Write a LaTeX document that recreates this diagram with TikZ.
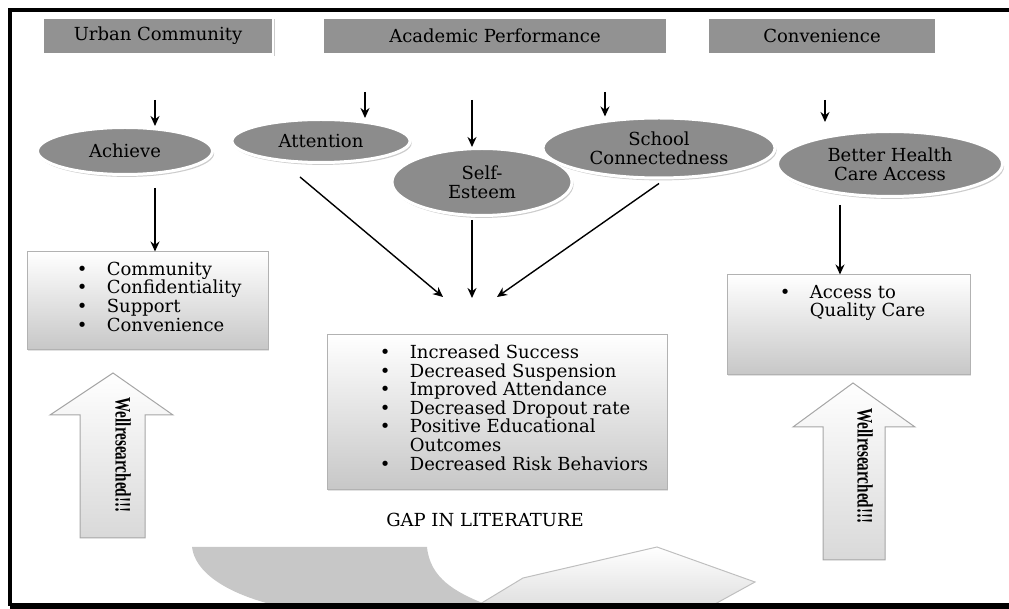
\documentclass[tikz,border=0pt]{standalone}
\usepackage{fontspec}
\setmainfont{DejaVu Serif}
\newfontfamily\tagfont{Liberation Serif}
\usetikzlibrary{arrows.meta,shapes.geometric,shadows}

\definecolor{topgray}{RGB}{146,146,146}
\definecolor{ovalgray}{RGB}{140,140,140}
\newcommand{\listdot}{\makebox[15pt][l]{\textbullet}}
\newcommand{\tagtext}{{\tagfont\fontsize{11}{11}\selectfont\scalebox{0.69}[1]{\textbf{Wellresearched!!!}}}}

\begin{document}
\begin{tikzpicture}[x=0.5pt, y=-0.5pt, font=\fontsize{9}{9.3}\selectfont,
  topbox/.style={rectangle, fill=topgray, draw=white, line width=1.2pt, minimum height=18.5pt, inner sep=0pt,
    drop shadow={shadow xshift=0.8pt, shadow yshift=-0.8pt, fill=black!25, opacity=0.8}},
  oval/.style={ellipse, fill=ovalgray, draw=white, line width=1.5pt, inner sep=0pt, align=center,
    drop shadow={shadow xshift=0.8pt, shadow yshift=-1.2pt, fill=black!22, opacity=0.9}},
  listbox/.style={rectangle, draw=black!30, line width=0.5pt, top color=white, bottom color=black!22, inner sep=0pt,
    drop shadow={shadow xshift=0.6pt, shadow yshift=-0.6pt, fill=black!15, opacity=0.8}},
  listtext/.style={anchor=north west, inner sep=0pt, align=left},
  arr/.style={-{Stealth[length=5pt,width=4.5pt]}, line width=0.7pt},
  bigarrow/.style={draw=black!35, line width=0.5pt, top color=white, bottom color=black!15}]

\useasboundingbox (0,0) rectangle (1009,609);

% header boxes
\node[topbox, minimum width=115pt] (urban) at (158,36) {Urban Community};
\node[topbox, minimum width=172.5pt] (academic) at (495,36) {Academic Performance};
\node[topbox, minimum width=114.5pt] (conv) at (822,36) {Convenience};

% ovals
\node[oval, minimum width=87.5pt, minimum height=23.5pt] (achieve) at (125,151) {Achieve};
\node[oval, minimum width=89pt, minimum height=21.5pt] (attention) at (321,141) {Attention};
\node[oval, minimum width=90pt, minimum height=33.5pt] (selfesteem) at (482,182) {Self-\\Esteem};
\node[oval, minimum width=116pt, minimum height=30pt] (school) at (659,148) {School\\Connectedness};
\node[oval, minimum width=112.5pt, minimum height=32.5pt] (health) at (890,164) {Better Health\\Care Access};

\coordinate (a1) at (155,100);
\coordinate (t1) at (365,92);
\coordinate (s1) at (472,100);
\coordinate (c1) at (605,92);
\coordinate (h1) at (825,100);
\draw[arr] (a1) -- (a1 |- achieve.north);
\draw[arr] (t1) -- (t1 |- attention.north);
\draw[arr] (s1) -- (s1 |- selfesteem.north);
\draw[arr] (c1) -- (c1 |- school.north);
\draw[arr, shorten >=4pt] (h1) -- (h1 |- health.north);

% list boxes
\node[listbox, minimum width=120.5pt, minimum height=49pt] (leftlist) at (147.5,301) {};
\node[listbox, minimum width=170pt, minimum height=77.5pt] (midlist) at (497,412.5) {};
\node[listbox, minimum width=121.5pt, minimum height=50pt] (rightlist) at (848.5,325) {};

\node[listtext] (lefttext) at ([shift={(25pt,-5pt)}]leftlist.north west)
  {\listdot Community\\ \listdot Confidentiality\\ \listdot Support\\ \listdot Convenience};
\node[listtext] (midtext) at ([shift={(26.5pt,-5pt)}]midlist.north west)
  {\listdot Increased Success\\ \listdot Decreased Suspension\\ \listdot Improved Attendance\\
   \listdot Decreased Dropout rate\\ \listdot Positive Educational\\ \hspace*{15pt}Outcomes\\
   \listdot Decreased Risk Behaviors};
\node[listtext] (righttext) at ([shift={(26.5pt,-5pt)}]rightlist.north west)
  {\listdot Access to\\ \hspace*{15pt}Quality Care};

\coordinate (a2) at (155,188);
\coordinate (h2) at (840,205);
\draw[arr] (a2) -- (a2 |- leftlist.north);
\draw[arr] (h2) -- (h2 |- rightlist.north);

\coordinate (g1) at (443,297);
\coordinate (g2) at (472,298);
\coordinate (g3) at (497,297);
\draw[arr] ([shift={(-10.5pt,-6.5pt)}]attention.south) -- (g1);
\draw[arr] ([shift={(-5pt,-1.5pt)}]selfesteem.south) -- (g2);
\draw[arr] ([yshift=-2pt]school.south) -- (g3);

\node (gap) at (485,520) {GAP IN LITERATURE};

% up arrows
\draw[bigarrow] (113,373) -- (173,415) -- (145,415) -- (145,538) -- (80,538) -- (80,415) -- (50,415) -- cycle;
\node[rotate=-90, inner sep=0pt] (lefttag) at (123,455) {\tagtext};
\draw[bigarrow] (853,383) -- (915,427) -- (885,427) -- (885,560) -- (823,560) -- (823,427) -- (793,427) -- cycle;
\node[rotate=-90, inner sep=0pt] (righttag) at (865,466) {\tagtext};

% cut-off curved arrow at the bottom
\fill[black!22] (192,547) -- (427,547) .. controls (430,578) and (455,592) .. (485,604)
  -- (270,604) .. controls (225,592) and (195,572) .. (192,547) -- cycle;
\draw[draw=black!25, line width=0.5pt, top color=white, bottom color=black!12]
  (480,604) -- (523,578) -- (657,547) -- (755,582) -- (715,604);

% frame
\draw[line width=2pt] (1009,10) -- (10,10) -- (10,606);
\draw[line width=3pt] (10,606) -- (1009,606);
\end{tikzpicture}
\end{document}
